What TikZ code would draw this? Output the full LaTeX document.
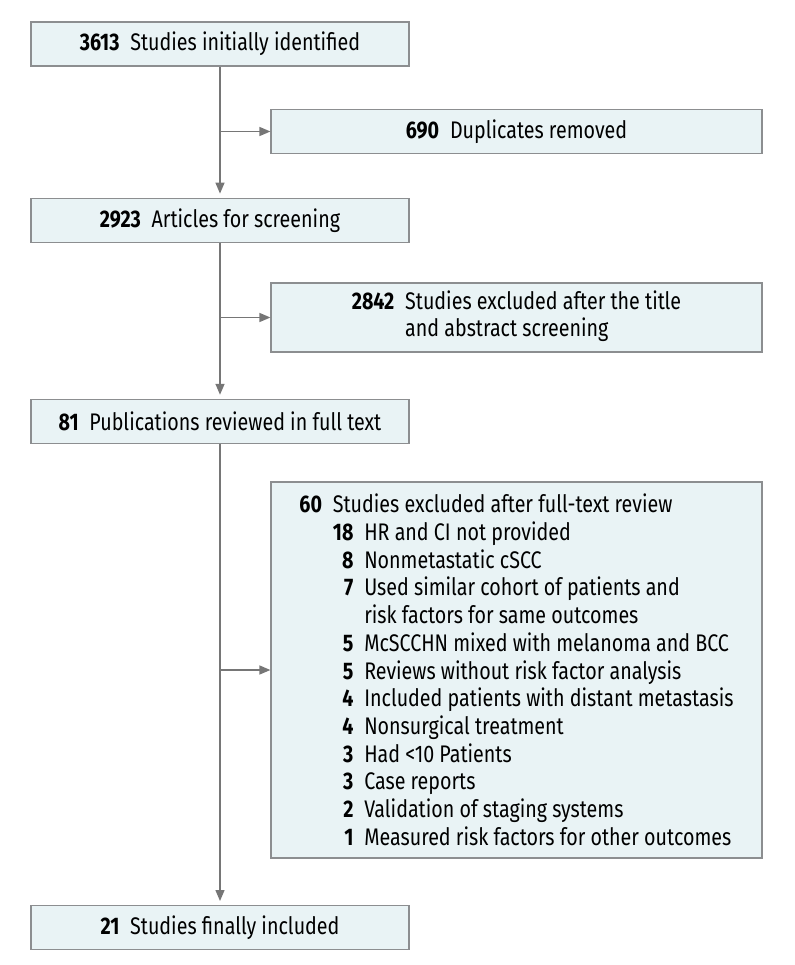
\documentclass[tikz,border=0pt]{standalone}
\usepackage{fontspec}
\setmainfont{Fira Sans}[FakeStretch=0.82]
\usepackage{tikz}
\usetikzlibrary{arrows.meta, positioning, calc}
\definecolor{boxfill}{RGB}{233,243,245}
\definecolor{boxline}{RGB}{140,142,144}
\definecolor{flowline}{RGB}{118,118,118}
\newcommand{\Count}[1]{\textbf{#1}\hspace{0.45em}}
\tikzset{
    box/.style={draw=boxline, fill=boxfill, line width=1.2pt, inner sep=0pt,
      minimum width=378pt, minimum height=44pt,
      font=\fontsize{24}{27.7}\selectfont},
    sidebox/.style={box, minimum width=491pt},
    flow/.style={draw=flowline, line width=1.4pt, -{Triangle[length=11pt, width=9pt]}},
}

\begin{document}
\begin{tikzpicture}[x=1pt, y=1pt]
    \useasboundingbox (0,0) rectangle (794,-965);

    % main column
    \node[box] (b1) at (220,-44) {\Count{3613}Studies initially identified};
    \node[box, below=131pt of b1] (b2) {\Count{2923}Articles for screening};
    \node[box, below=156pt of b2] (b3) {\Count{81}Publications reviewed in full text};
    \node[box, below=461pt of b3] (b4) {\Count{21}Studies finally included};

    % exclusions
    \node[sidebox] (s1) at (516.5,-131.5) {\Count{690}Duplicates removed};
    \node[sidebox, minimum height=69pt] (s2) at (516.5,-317.5)
      {\Count{2842}\begin{tabular}[t]{@{}l@{}}Studies excluded after the title\\
        and abstract screening\end{tabular}};
    \node[sidebox, minimum height=376pt] (s3) at (516.5,-670) {%
      \raisebox{-3.5pt}[\height][\depth]{%
      \begin{tabular}{@{}r@{\hspace{0.45em}}r@{\hspace{0.45em}}l@{}}
        \textbf{60} & \multicolumn{2}{@{}l@{}}{Studies excluded after full-text review}\\
        & \textbf{18} & HR and CI not provided\\
        & \textbf{8} & Nonmetastatic cSCC\\
        & \textbf{7} & Used similar cohort of patients and\\
        & & risk factors for same outcomes\\
        & \textbf{5} & McSCCHN mixed with melanoma and BCC\\
        & \textbf{5} & Reviews without risk factor analysis\\
        & \textbf{4} & Included patients with distant metastasis\\
        & \textbf{4} & Nonsurgical treatment\\
        & \textbf{3} & Had <10 Patients\\
        & \textbf{3} & Case reports\\
        & \textbf{2} & Validation of staging systems\\
        & \textbf{1} & Measured risk factors for other outcomes
      \end{tabular}}};

    \coordinate (j1) at (b1.south |- s1.west);
    \coordinate (j2) at (b2.south |- s2.west);
    \coordinate (j3) at (b3.south |- s3.west);

    \draw[flow, shorten >=4pt] (b1) -- (b2);
    \draw[flow, shorten >=4pt] (b2) -- (b3);
    \draw[flow, shorten >=4pt] (b3) -- (b4);
    \draw[flow] (j1) -- (s1);
    \draw[flow] (j2) -- (s2);
    \draw[flow] (j3) -- (s3);
  \end{tikzpicture}
\end{document}
